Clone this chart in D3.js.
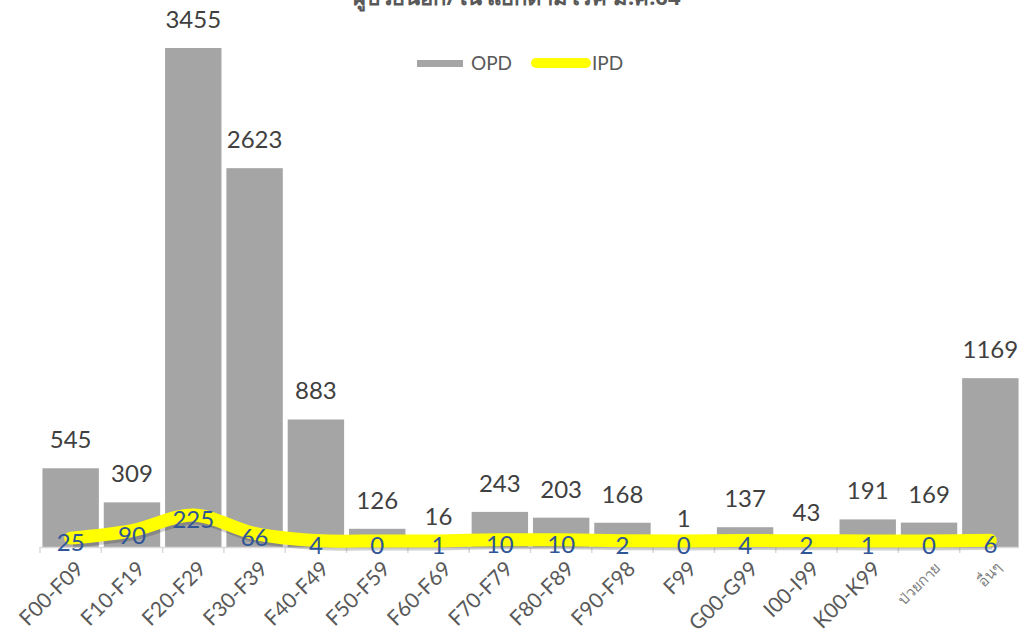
<!DOCTYPE html>
<html>
<head>
<meta charset="utf-8">
<script src="https://cdn.jsdelivr.net/npm/d3@7"></script>
<style>
body { margin: 0; background: #fff; }
svg { display: block; font-family: Lato, "Noto Sans", sans-serif; }
</style>
</head>
<body>
<div id="chart"></div>
<script>
// categories and values
var categories = ["F00-F09", "F10-F19", "F20-F29", "F30-F39", "F40-F49", "F50-F59", "F60-F69", "F70-F79",
	"F80-F89", "F90-F98", "F99", "G00-G99", "I00-I99", "K00-K99", "ป่วยกาย", "อื่นๆ"]
var opd = [545, 309, 3455, 2623, 883, 126, 16, 243, 203, 168, 1, 137, 43, 191, 169, 1169]
var ipd = [25, 90, 225, 66, 4, 0, 1, 10, 10, 2, 0, 4, 2, 1, 0, 6]
var title = "ผู้ป่วยนอก/ใน แยกตามโรค ม.ค.64"

var width = 1019
var height = 639

var svg = d3.select("#chart")
	.append("svg")
	.attr("width", width)
	.attr("height", height)

var x = d3.scaleBand()
	.domain(categories)
	.range([40, 1021])
	.paddingInner(0.08)
	.paddingOuter(0.04)

var y = d3.scaleLinear()
	.domain([0, 3455])
	.range([547, 48])

// IPD sits on its own (secondary) scale
var y2 = d3.scaleLinear()
	.domain([0, 225])
	.range([541, 515])

// title (cut off at the top in the original)
svg.append("text")
	.attr("x", 517)
	.attr("y", 5)
	.attr("text-anchor", "middle")
	.attr("font-size", 22)
	.attr("font-weight", "bold")
	.attr("fill", "#595959")
	.style("font-family", "'Noto Sans', sans-serif")
	.text(title)

// bars
svg.selectAll(".bar")
	.data(opd)
	.enter()
	.append("rect")
	.attr("class", "bar")
	.attr("x", function(d, i) { return x(categories[i]) })
	.attr("y", function(d) { return y(d) })
	.attr("width", x.bandwidth())
	.attr("height", function(d) { return y(0) - y(d) })
	.attr("fill", "#a5a5a5")

// axis
var axis = svg.append("g")
	.attr("transform", "translate(0," + y(0) + ")")
	.call(d3.axisBottom(x).tickSize(0))
axis.select(".domain").attr("stroke", "#d9d9d9").attr("stroke-width", 1.5)
axis.selectAll(".tick text")
	.attr("font-size", 21)
	.attr("fill", "#595959")
	.attr("text-anchor", "end")
	.attr("x", 0)
	.attr("y", 0)
	.attr("dy", "0.35em")
	.attr("transform", "translate(9,18) rotate(-45)")
	.style("font-family", "Lato, sans-serif")
axis.selectAll(".tick text")
	.filter(function(d) { return d == "ป่วยกาย" || d == "อื่นๆ" })
	.attr("font-size", 15)
	.attr("fill", "#7f7f7f")
	.style("font-family", "'Noto Sans', sans-serif")

// tick marks at band borders
var step = x.step()
svg.selectAll(".sep")
	.data(d3.range(categories.length + 1))
	.enter()
	.append("line")
	.attr("x1", function(d) { return 40 + d * step })
	.attr("x2", function(d) { return 40 + d * step })
	.attr("y1", y(0))
	.attr("y2", y(0) + 6)
	.attr("stroke", "#d9d9d9")
	.attr("stroke-width", 1.5)

// IPD line
var line = d3.line()
	.x(function(d, i) { return x(categories[i]) + x.bandwidth() / 2 })
	.y(function(d) { return y2(d) })
	.curve(d3.curveCatmullRom.alpha(0.5))

svg.append("path")
	.datum(ipd)
	.attr("d", line)
	.attr("fill", "none")
	.attr("stroke", "#000")
	.attr("stroke-opacity", 0.18)
	.attr("stroke-width", 13)
	.attr("transform", "translate(2,3)")

svg.append("path")
	.datum(ipd)
	.attr("d", line)
	.attr("fill", "none")
	.attr("stroke", "#ffff00")
	.attr("stroke-width", 13)
	.attr("stroke-linecap", "round")
	.attr("stroke-linejoin", "round")

// OPD labels
svg.selectAll(".opd_label")
	.data(opd)
	.enter()
	.append("text")
	.attr("x", function(d, i) { return x(categories[i]) + x.bandwidth() / 2 })
	.attr("y", function(d) { return y(d) - 20 })
	.attr("text-anchor", "middle")
	.attr("font-size", 24)
	.attr("fill", "#404040")
	.text(function(d) { return d })

// IPD labels
svg.selectAll(".ipd_label")
	.data(ipd)
	.enter()
	.append("text")
	.attr("x", function(d, i) { return x(categories[i]) + x.bandwidth() / 2 })
	.attr("y", function(d) { return y2(d) + 13 })
	.attr("text-anchor", "middle")
	.attr("font-size", 24)
	.attr("fill", "#2f5597")
	.text(function(d) { return d })

// legend
var legend = svg.append("g")
legend.append("rect")
	.attr("x", 417).attr("y", 60).attr("width", 46).attr("height", 7)
	.attr("fill", "#a5a5a5")
legend.append("text")
	.attr("x", 471).attr("y", 70)
	.attr("font-size", 19).attr("fill", "#595959")
	.text("OPD")
legend.append("line")
	.attr("x1", 536).attr("x2", 586).attr("y1", 63).attr("y2", 63)
	.attr("stroke", "#ffff00").attr("stroke-width", 10).attr("stroke-linecap", "round")
legend.append("text")
	.attr("x", 592).attr("y", 70)
	.attr("font-size", 19).attr("fill", "#595959")
	.text("IPD")
</script>
</body>
</html>
